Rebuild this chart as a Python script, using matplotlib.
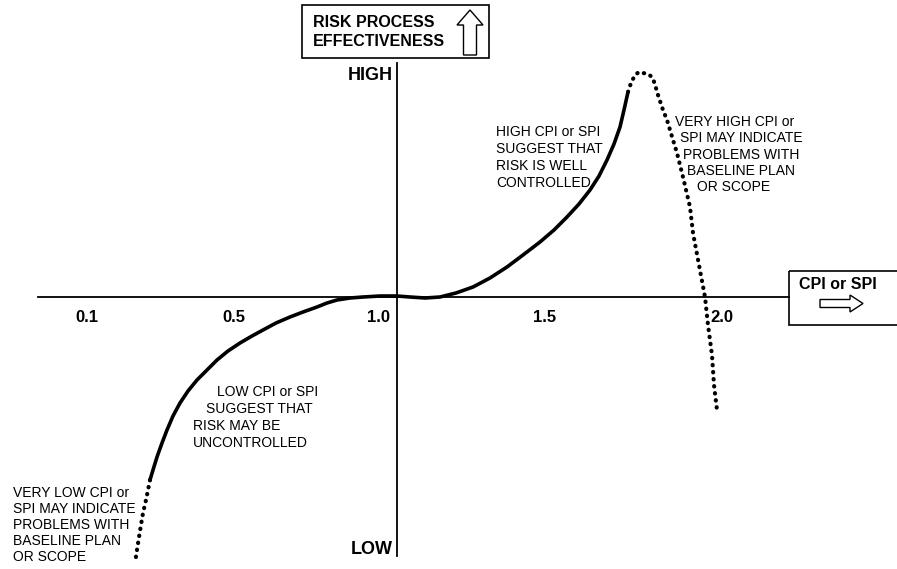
import matplotlib
matplotlib.use("Agg")
import matplotlib.pyplot as plt
from matplotlib.patches import Rectangle, FancyArrow

plt.rcParams['font.family'] = ['Liberation Sans', 'DejaVu Sans']

# ---- data (positions in chart units, x to the right, y downward) ----
tick_labels = ["0.1", "0.5", "1.0", "1.5", "2.0"]
tick_pos = [87, 234, 378, 545, 722]

solid_x = [150, 153, 157, 162, 167, 173, 180, 188, 197, 207, 217, 228, 240, 252, 263, 276, 290, 303,
           317, 327, 337, 350, 363, 380, 397, 410, 425, 440, 456, 473, 490, 507, 523, 540, 554, 567,
           579, 590, 599, 607, 614, 620, 624, 628]
solid_y = [480, 470, 457, 443, 430, 416, 403, 391, 380, 370, 360, 351, 343, 336, 330, 323, 317, 312,
           307, 303, 300, 298, 297, 296, 296, 297, 298, 297, 293, 287, 278, 267, 255, 242, 230, 217,
           204, 190, 176, 160, 144, 127, 110, 92]

dot_hi_x = [628, 631, 635, 639, 643, 648, 652, 655, 657, 660, 663, 667, 670, 677, 683, 690, 693,
            699, 705, 708, 712, 714, 717]
dot_hi_y = [92, 83, 75, 72, 73, 74, 77, 84, 92, 101, 110, 120, 130, 153, 177, 207, 233,
            265, 297, 325, 355, 385, 410]

dot_lo_x = [150, 148, 146, 143, 141, 139, 137, 135]
dot_lo_y = [480, 490, 500, 513, 525, 537, 550, 563]

note_high = ["HIGH CPI or SPI", "SUGGEST THAT", "RISK IS WELL", "CONTROLLED"]
note_high_x = [496, 496, 496, 496]
note_high_y = [132, 149, 166, 183]

note_vhigh = ["VERY HIGH CPI or", "SPI MAY INDICATE", "PROBLEMS WITH", "BASELINE PLAN", "OR SCOPE"]
note_vhigh_x = [675, 680, 683, 687, 697]
note_vhigh_y = [122, 138, 155, 171, 187]

note_low = ["LOW CPI or SPI", "SUGGEST THAT", "RISK MAY BE", "UNCONTROLLED"]
note_low_x = [217, 206, 193, 193]
note_low_y = [392, 409, 426, 443]

note_vlow = ["VERY LOW CPI or", "SPI MAY INDICATE", "PROBLEMS WITH", "BASELINE PLAN", "OR SCOPE"]
note_vlow_x = [13, 13, 13, 13, 13]
note_vlow_y = [493, 509, 525, 541, 557]

fig = plt.figure(figsize=(8.97, 5.69), dpi=100)
ax = fig.add_axes([0, 0, 1, 1])
ax.set_xlim(0, 897)
ax.set_ylim(569, 0)
ax.axis('off')

# axes
ax.plot([38, 789], [297, 297], color='black', lw=1.3)
ax.plot([397, 397], [63, 556], color='black', lw=1.3)

# curve
ax.plot(solid_x, solid_y, color='black', lw=2.6, solid_capstyle='round', solid_joinstyle='round')
ax.plot(dot_hi_x, dot_hi_y, color='black', lw=3, linestyle=(0, (0.1, 1.6)), dash_capstyle='round')
ax.plot(dot_lo_x, dot_lo_y, color='black', lw=3, linestyle=(0, (0.1, 1.6)), dash_capstyle='round')

# ticks
for t, p in zip(tick_labels, tick_pos):
    ax.text(p, 317, t, ha='center', va='center', fontsize=12, fontweight='bold')

ax.text(393, 75, "HIGH", ha='right', va='center', fontsize=13, fontweight='bold')
ax.text(393, 549, "LOW", ha='right', va='center', fontsize=13, fontweight='bold')

# title box
ax.add_patch(Rectangle((302, 5), 187, 53, fill=False, edgecolor='black', lw=1.2))
ax.text(313, 32, "RISK PROCESS\nEFFECTIVENESS", ha='left', va='center', fontsize=11.5,
        fontweight='bold', linespacing=1.3)
ax.add_patch(FancyArrow(470, 55, 0, -45, width=13, head_width=26, head_length=15,
                        length_includes_head=True, facecolor='white', edgecolor='black', lw=1))

# CPI box
ax.add_patch(Rectangle((789, 271), 110, 54, fill=False, edgecolor='black', lw=1.2))
ax.text(838, 284, "CPI or SPI", ha='center', va='center', fontsize=11.5, fontweight='bold')
ax.add_patch(FancyArrow(820, 303.5, 43, 0, width=8, head_width=17, head_length=13,
                        length_includes_head=True, facecolor='white', edgecolor='black', lw=1))

fs = 10
for lines, xs, ys in [(note_high, note_high_x, note_high_y),
                      (note_vhigh, note_vhigh_x, note_vhigh_y),
                      (note_low, note_low_x, note_low_y),
                      (note_vlow, note_vlow_x, note_vlow_y)]:
    for s, x, y in zip(lines, xs, ys):
        ax.text(x, y, s, ha='left', va='center', fontsize=fs)

fig.savefig("out.png", dpi=100)
